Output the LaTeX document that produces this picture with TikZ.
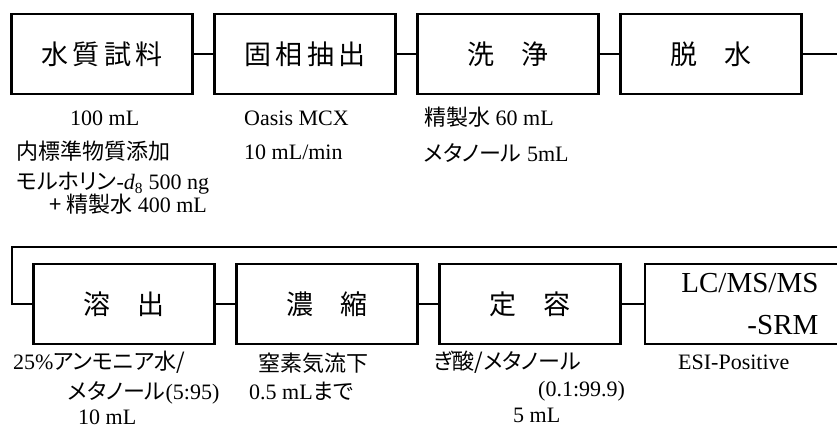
\documentclass[tikz,border=0pt]{standalone}
\usepackage{fontspec}
\setmainfont{Liberation Serif}
\newfontfamily\jp{Noto Sans CJK JP}
\newfontfamily\jpn[RawFeature=+palt]{Noto Sans CJK JP}
\usetikzlibrary{positioning}

\begin{document}
\begin{tikzpicture}[x=1pt,y=1pt,node distance=203pt,on grid,line width=2.4pt,
	box/.style={draw,minimum width=181pt,minimum height=80pt,inner sep=0pt,font=\fontsize{27}{32}\selectfont\jp},
	note/.style={anchor=base west,inner sep=0pt,font=\fontsize{22}{26}\selectfont}]
	\useasboundingbox (0,0) rectangle (837,430);
	\node[box] (s_1) at (102,376) {水\,質\,試\,料};
	\node[box] (s_2) [right=of s_1] {固\,相\,抽\,出};
	\node[box] (s_3) [right=of s_2] {洗　浄};
	\node[box] (s_4) [right=of s_3] {脱　水};
	\node[box] (s_5) at (124,126) {溶　出};
	\node[box] (s_6) [right=of s_5] {濃　縮};
	\node[box] (s_7) [right=of s_6] {定　容};
	\node[box,anchor=west,minimum width=210pt,align=right,font=\fontsize{29}{42}\selectfont] (s_8) at ([xshift=22pt]s_7.east) {LC/MS/MS\\-SRM};
	\coordinate (e_1) at (837,376);
	\coordinate (e_2) at (837,183);
	\coordinate (e_3) at (12,183);
	\path[draw]
	(s_1) edge (s_2)
	(s_2) edge (s_3)
	(s_3) edge (s_4)
	(s_4) edge (e_1)
	(s_5) edge (s_6)
	(s_6) edge (s_7)
	(s_7) edge (s_8);
	\draw (e_2) -- (e_3) |- (s_5);
	% notes below the boxes
	\node[note] (n_1) at (69,304) {100 mL};
	\node[note] (n_2) at (15,270) {\jpn 内標準物質添加};
	\node[note] (n_3) at (15,240) {{\jpn モルホリン}-\textit{d}\textsubscript{8} 500 ng};
	\node[note] (n_4) at (48,217) {{\jpn + 精製水} 400 mL};
	\node[note] (n_5) at (243,304) {Oasis MCX};
	\node[note] (n_6) at (243,270) {10 mL/min};
	\node[note] (n_7) at (423,304) {{\jpn 精製水} 60 mL};
	\node[note] (n_8) at (423,268) {{\jpn メタノール} 5mL};
	\node[note] (n_9) at (12,60) {25\%{\jpn アンモニア水/}};
	\node[note] (n_10) at (67,30) {{\jpn メタノール}(5:95)};
	\node[note] (n_11) at (77,5) {10 mL};
	\node[note] (n_12) at (257,58) {\jpn 窒素気流下};
	\node[note] (n_13) at (248,30) {0.5 mL{\jpn まで}};
	\node[note] (n_14) at (432,60) {\jpn ぎ酸/メタノール};
	\node[note] (n_15) at (537,33) {(0.1:99.9)};
	\node[note] (n_16) at (512,7) {5 mL};
	\node[note] (n_17) at (677,60) {ESI-Positive};
\end{tikzpicture}
\end{document}
